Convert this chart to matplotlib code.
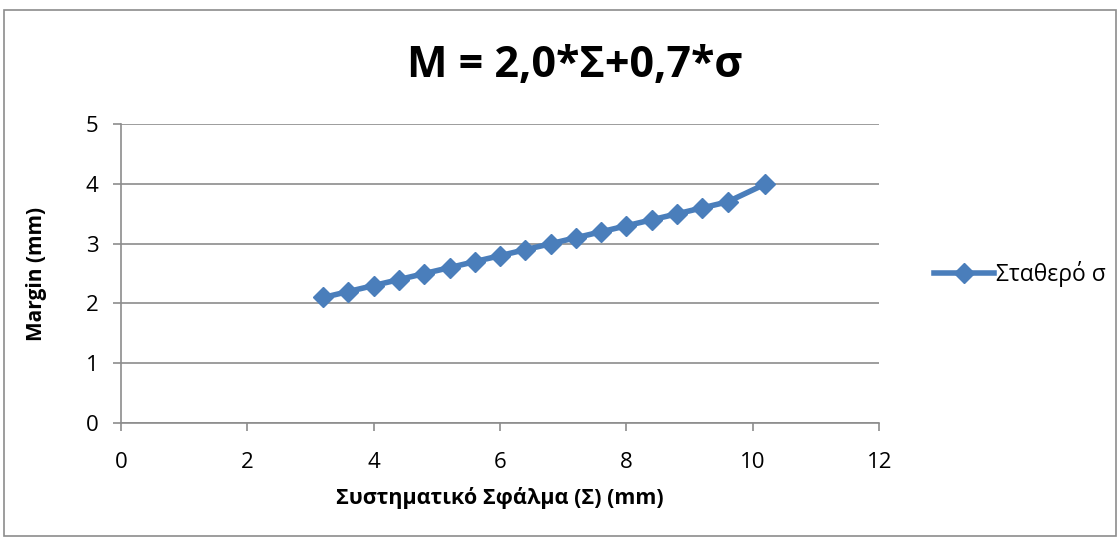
import matplotlib
matplotlib.use('Agg')
from matplotlib import pyplot as plt
from matplotlib.patches import Rectangle

plt.rcParams['font.family'] = ['Open Sans', 'DejaVu Sans']

sigma_sys = [3.2, 3.6, 4.0, 4.4, 4.8, 5.2, 5.6, 6.0, 6.4, 6.8, 7.2, 7.6, 8.0, 8.4, 8.8, 9.2, 9.6, 10.2]
margin = [2.1, 2.2, 2.3, 2.4, 2.5, 2.6, 2.7, 2.8, 2.9, 3.0, 3.1, 3.2, 3.3, 3.4, 3.5, 3.6, 3.7, 4.0]
series_name = 'Σταθερό σ'
title = 'M = 2,0*Σ+0,7*σ'
line_color = '#4a7ebb'
grid_color = '#8c8c8c'

fig = plt.figure(figsize=(11.2, 5.4), dpi=100)
fig.patches.append(Rectangle((4 / 1120, 4 / 540), 1112 / 1120, 526 / 540,
                             transform=fig.transFigure, fill=False,
                             edgecolor='#8c8c8c', linewidth=1.2))
ax = fig.add_axes([0.108, 0.2167, 0.677, 0.5533])

ax.plot(sigma_sys, margin, color=line_color, linewidth=4, marker='D',
        markersize=10.5, markeredgecolor=line_color, label=series_name,
        zorder=3)

ax.set_xlim(0, 12)
ax.set_ylim(0, 5)
ax.set_xticks(range(0, 13, 2))
ax.set_yticks(range(0, 6))
ax.yaxis.grid(True, color=grid_color, linewidth=1.2)
ax.set_axisbelow(True)
for side in ['top', 'right']:
    ax.spines[side].set_visible(False)
for side in ['left', 'bottom']:
    ax.spines[side].set_color(grid_color)
    ax.spines[side].set_linewidth(1.2)
ax.tick_params(axis='both', labelsize=16, color=grid_color, length=6,
               width=1.2, direction='out')
ax.tick_params(axis='y', pad=10)
ax.tick_params(axis='x', pad=15)

ax.set_xlabel('Συστηματικό Σφάλμα (Σ) (mm)', fontsize=15.5, fontweight='bold',
              labelpad=10)
ax.set_ylabel('Margin (mm)', fontsize=15, fontweight='bold', labelpad=28)
fig.text(0.513, 0.878, title, ha='center', va='center', fontsize=31,
         fontweight='bold')

ax.legend(loc='center left', bbox_to_anchor=(1.045, 0.5), frameon=False,
          fontsize=16.5, handlelength=2.6, handletextpad=0.1)

fig.savefig('out.png', dpi=100)
